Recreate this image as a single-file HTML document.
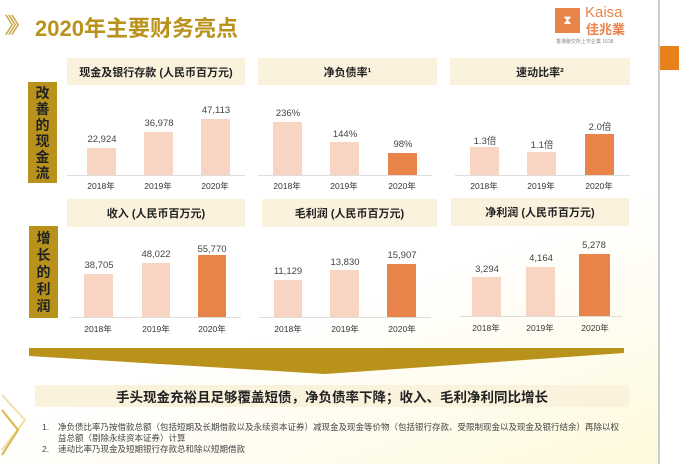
<!DOCTYPE html>
<html><head><meta charset="utf-8"><style>
body{margin:0;width:679px;height:464px;overflow:hidden;background:#fff;font-family:"Liberation Sans","Noto Sans CJK SC",sans-serif;position:relative}
.a{position:absolute}
.hd{position:absolute;background:#FBF2DE;color:#222;font-size:11px;font-weight:bold;display:flex;align-items:center;justify-content:center}
.lb{position:absolute;background:#B8921A;color:#222;font-size:14px;font-weight:bold;width:29px;display:flex;flex-direction:column;align-items:center;justify-content:center;overflow:hidden}
.lb div{height:16px;line-height:16px;overflow:visible}
.lb2 div{height:17px;line-height:17px}
.b{position:absolute}
.l{background:#F8D5C2}.d{background:#E8844A}
.v{position:absolute;font-size:9.5px;color:#444;width:50px;text-align:center}
.y{position:absolute;font-size:8.5px;color:#333;width:40px;text-align:center}
.base{position:absolute;height:1px;background:#ddd}
</style></head><body>
<div class="a" style="left:0;top:0;width:658px;height:464px;background:linear-gradient(160deg,#fff 0%,#fff 60%,#FEF9DC 100%)"></div>
<div class="a" style="left:658px;top:0;width:2px;height:464px;background:#ccc"></div>
<div class="a" style="left:660px;top:46px;width:19px;height:24px;background:#E8801E"></div>
<div class="a" style="left:4px;top:8px;font-size:22px;color:#C9A94A;letter-spacing:-8px">〉〉〉</div>
<div class="a" style="left:35px;top:11px;font-size:22px;font-weight:bold;color:#B8921A">2020年主要财务亮点</div>
<div class="a" style="left:555px;top:8px;width:25px;height:25px;background:#E8844A;color:#fff;font-size:12px;text-align:center;line-height:25px">⧗</div>
<div class="a" style="left:585px;top:4px;font-size:15px;color:#E8844A">Kaisa</div>
<div class="a" style="left:586px;top:19px;font-size:13px;font-weight:bold;color:#E8844A">佳兆業</div>
<div class="a" style="left:556px;top:38px;font-size:5px;color:#888">香港聯交所上市企業 1638</div>

<div class="hd" style="left:67px;top:58px;width:178px;height:27px">现金及银行存款 (人民币百万元)</div>
<div class="hd" style="left:258px;top:58px;width:179px;height:27px">净负债率¹</div>
<div class="hd" style="left:450px;top:58px;width:180px;height:27px">速动比率²</div>
<div class="lb" style="left:28px;top:82px;height:101px"><div>改</div><div>善</div><div>的</div><div>现</div><div>金</div><div>流</div></div>

<div class="base" style="left:67px;top:175px;width:178px"></div>
<div class="base" style="left:258px;top:175px;width:174px"></div>
<div class="base" style="left:455px;top:175px;width:175px"></div>
<div class="b l" style="left:87px;top:148px;width:29px;height:27px"></div><div class="v" style="left:77px;top:134px">22,924</div>
<div class="b l" style="left:144px;top:132px;width:29px;height:43px"></div><div class="v" style="left:134px;top:118px">36,978</div>
<div class="b l" style="left:201px;top:119px;width:29px;height:56px"></div><div class="v" style="left:191px;top:105px">47,113</div>
<div class="b l" style="left:273px;top:122px;width:29px;height:53px"></div><div class="v" style="left:263px;top:108px">236%</div>
<div class="b l" style="left:330px;top:142px;width:29px;height:33px"></div><div class="v" style="left:320px;top:129px">144%</div>
<div class="b d" style="left:388px;top:153px;width:29px;height:22px"></div><div class="v" style="left:378px;top:139px">98%</div>
<div class="b l" style="left:470px;top:147px;width:29px;height:28px"></div><div class="v" style="left:460px;top:133px">1.3倍</div>
<div class="b l" style="left:527px;top:152px;width:29px;height:23px"></div><div class="v" style="left:517px;top:137px">1.1倍</div>
<div class="b d" style="left:585px;top:134px;width:29px;height:41px"></div><div class="v" style="left:575px;top:119px">2.0倍</div>
<div class="y" style="left:81px;top:180px">2018年</div><div class="y" style="left:138px;top:180px">2019年</div><div class="y" style="left:195px;top:180px">2020年</div>
<div class="y" style="left:267px;top:180px">2018年</div><div class="y" style="left:324px;top:180px">2019年</div><div class="y" style="left:382px;top:180px">2020年</div>
<div class="y" style="left:464px;top:180px">2018年</div><div class="y" style="left:521px;top:180px">2019年</div><div class="y" style="left:579px;top:180px">2020年</div>

<div class="hd" style="left:67px;top:199px;width:178px;height:28px">收入 (人民币百万元)</div>
<div class="hd" style="left:262px;top:199px;width:175px;height:28px">毛利润 (人民币百万元)</div>
<div class="hd" style="left:451px;top:198px;width:178px;height:28px">净利润 (人民币百万元)</div>
<div class="lb lb2" style="left:29px;top:226px;height:92px"><div>增</div><div>长</div><div>的</div><div>利</div><div>润</div></div>

<div class="base" style="left:70px;top:317px;width:171px"></div>
<div class="base" style="left:259px;top:317px;width:172px"></div>
<div class="base" style="left:460px;top:316px;width:162px"></div>
<div class="b l" style="left:84px;top:274px;width:29px;height:43px"></div><div class="v" style="left:74px;top:260px">38,705</div>
<div class="b l" style="left:142px;top:263px;width:28px;height:54px"></div><div class="v" style="left:131px;top:249px">48,022</div>
<div class="b d" style="left:198px;top:255px;width:28px;height:62px"></div><div class="v" style="left:187px;top:244px">55,770</div>
<div class="b l" style="left:274px;top:280px;width:28px;height:37px"></div><div class="v" style="left:263px;top:266px">11,129</div>
<div class="b l" style="left:330px;top:270px;width:29px;height:47px"></div><div class="v" style="left:320px;top:257px">13,830</div>
<div class="b d" style="left:387px;top:264px;width:29px;height:53px"></div><div class="v" style="left:377px;top:250px">15,907</div>
<div class="b l" style="left:472px;top:277px;width:29px;height:39px"></div><div class="v" style="left:462px;top:264px">3,294</div>
<div class="b l" style="left:526px;top:267px;width:29px;height:49px"></div><div class="v" style="left:516px;top:253px">4,164</div>
<div class="b d" style="left:579px;top:254px;width:31px;height:62px"></div><div class="v" style="left:569px;top:240px">5,278</div>
<div class="y" style="left:78px;top:323px">2018年</div><div class="y" style="left:136px;top:323px">2019年</div><div class="y" style="left:192px;top:323px">2020年</div>
<div class="y" style="left:268px;top:323px">2018年</div><div class="y" style="left:325px;top:323px">2019年</div><div class="y" style="left:382px;top:323px">2020年</div>
<div class="y" style="left:466px;top:322px">2018年</div><div class="y" style="left:520px;top:322px">2019年</div><div class="y" style="left:575px;top:322px">2020年</div>

<svg class="a" style="left:0;top:0" width="679" height="464">
<polygon points="29,348 624,348 624,353 325,374 29,356" fill="#B8921A"/>
<polyline points="2,395 25,420 2,450" fill="none" stroke="#EFDFA8" stroke-width="2"/>
<polyline points="2,410 18,430 2,455" fill="none" stroke="#D9B74E" stroke-width="2"/>
</svg>
<div class="hd" style="left:35px;top:385px;width:594px;height:22px;font-size:13.5px">手头现金充裕且足够覆盖短债，净负债率下降；收入、毛利净利同比增长</div>
<div class="a" style="left:42px;top:422px;font-size:8.5px;color:#444;line-height:11px;width:580px">
<div style="position:relative;padding-left:16px"><span style="position:absolute;left:0">1.</span>净负债比率乃按借款总额（包括短期及长期借款以及永续资本证券）减现金及现金等价物（包括银行存款、受限制现金以及现金及银行结余）再除以权益总额（剔除永续资本证券）计算</div>
<div style="position:relative;padding-left:16px"><span style="position:absolute;left:0">2.</span>速动比率乃现金及短期银行存款总和除以短期借款</div>
</div>
</body></html>
